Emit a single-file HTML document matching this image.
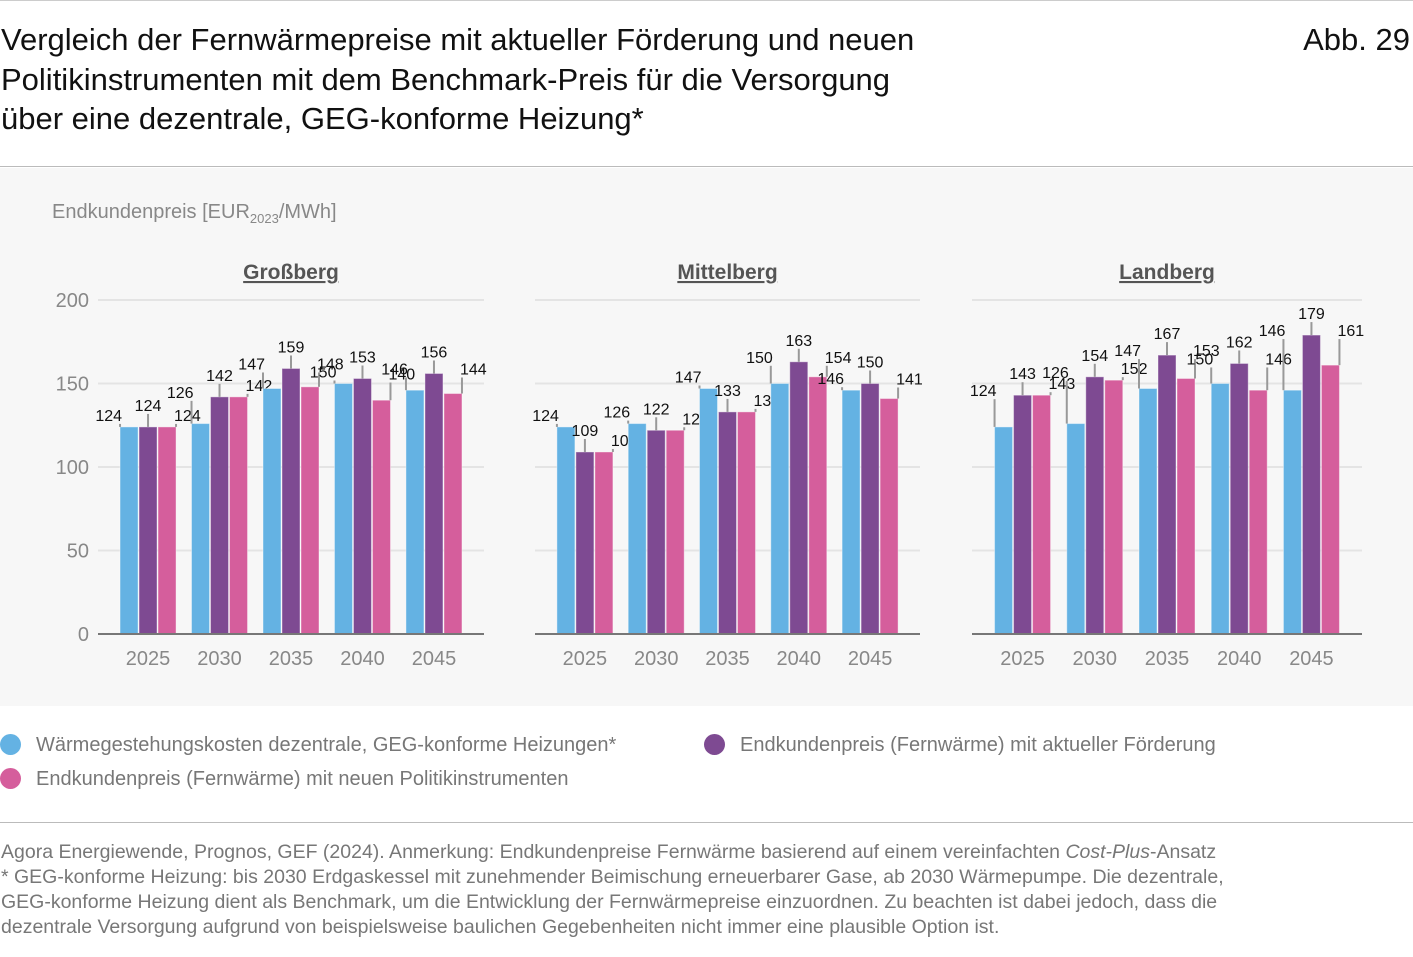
<!DOCTYPE html>
<html><head><meta charset="utf-8"><style>
body{margin:0;width:1413px;height:957px;background:#fff;font-family:"Liberation Sans",sans-serif;position:relative;overflow:hidden}
.abs{position:absolute;white-space:nowrap}
</style></head><body>
<div class="abs" style="left:0;top:0;width:1413px;height:1px;background:#ccc"></div>
<div class="abs" style="left:1px;top:20px;font-size:31px;line-height:39.5px;color:#111">Vergleich der Fernwärmepreise mit aktueller Förderung und neuen<br>Politikinstrumenten mit dem Benchmark-Preis für die Versorgung<br>über eine dezentrale, GEG-konforme Heizung*</div>
<div class="abs" style="right:3px;top:20px;font-size:31px;line-height:39.5px;color:#111">Abb. 29</div>
<div class="abs" style="left:0;top:166px;width:1413px;height:1px;background:#bbb"></div>
<div class="abs" style="left:0;top:168px;width:1413px;height:538px;background:#f7f7f7"></div>
<svg class="abs" style="left:0;top:0" width="1413" height="957" id="chart"></svg>
<div class="abs" style="left:0;top:734px;font-size:20px;color:#777">
 <div class="abs" style="left:0;top:0"><span style="display:inline-block;width:21px;height:21px;border-radius:50%;background:#64b2e3;vertical-align:-4px;margin-right:15px"></span>Wärmegestehungskosten dezentrale, GEG-konforme Heizungen*</div>
 <div class="abs" style="left:704px;top:0"><span style="display:inline-block;width:21px;height:21px;border-radius:50%;background:#7e4a92;vertical-align:-4px;margin-right:15px"></span>Endkundenpreis (Fernwärme) mit aktueller Förderung</div>
 <div class="abs" style="left:0;top:34px"><span style="display:inline-block;width:21px;height:21px;border-radius:50%;background:#d55e9c;vertical-align:-4px;margin-right:15px"></span>Endkundenpreis (Fernwärme) mit neuen Politikinstrumenten</div>
</div>
<div class="abs" style="left:0;top:822px;width:1413px;height:1px;background:#bbb"></div>
<div class="abs" style="left:1px;top:840px;font-size:19.5px;line-height:25px;color:#777">Agora Energiewende, Prognos, GEF (2024). Anmerkung: Endkundenpreise Fernwärme basierend auf einem vereinfachten <i>Cost-Plus</i>-Ansatz<br>* GEG-konforme Heizung: bis 2030 Erdgaskessel mit zunehmender Beimischung erneuerbarer Gase, ab 2030 Wärmepumpe. Die dezentrale,<br>GEG-konforme Heizung dient als Benchmark, um die Entwicklung der Fernwärmepreise einzuordnen. Zu beachten ist dabei jedoch, dass die<br>dezentrale Versorgung aufgrund von beispielsweise baulichen Gegebenheiten nicht immer eine plausible Option ist.</div>
<script>
const regions=["Großberg","Mittelberg","Landberg"];
const years=["2025","2030","2035","2040","2045"];
const benchmark=[[124,126,147,150,146],[124,126,147,150,146],[124,126,147,150,146]];
const currentSupport=[[124,142,159,153,156],[109,122,133,163,150],[143,154,167,162,179]];
const newInstruments=[[124,142,148,140,144],[109,122,133,154,141],[143,152,153,146,161]];
const yTicks=[0,50,100,150,200];
const svg=document.getElementById('chart');
const NS='http://www.w3.org/2000/svg';
const panelX=[[98,484],[535,920],[972,1362]];
const y=v=>634-v*(334/200);
function mk(t,a,txt){const e=document.createElementNS(NS,t);for(const k in a)e.setAttribute(k,a[k]);if(txt!==undefined)e.textContent=txt;svg.appendChild(e);return e;}
const yl=mk('text',{x:52,y:218,'font-size':20,fill:'#888','font-family':'Liberation Sans'});


yl.innerHTML='Endkundenpreis [EUR<tspan font-size="13" dy="5">2023</tspan><tspan dy="-5">/MWh]</tspan>';
yTicks.forEach(t=>{const e=mk('text',{x:89,y:y(t)+7,'text-anchor':'end','font-size':20,fill:'#888','font-family':'Liberation Sans'},t);

});
const cols=['#64b2e3','#7e4a92','#d55e9c'];
regions.forEach((r,p)=>{
 const [x0,x1]=panelX[p];
 yTicks.forEach(t=>{if(t>0){const g=mk('line',{x1:x0,x2:x1,y1:y(t),y2:y(t),stroke:'#e4e4e4','stroke-width':2});
 
 }});
 const ttl=mk('text',{x:(x0+x1)/2,y:279,'text-anchor':'middle','font-size':21,'font-weight':'bold',fill:'#555','text-decoration':'underline','font-family':'Liberation Sans'},r);
 
 
 const step=(x1-x0)/5.4;
 years.forEach((yr,i)=>{
  const cx=x0+step*(0.7+i);
  const vals=[benchmark[p][i],currentSupport[p][i],newInstruments[p][i]];
  const midLab=y(vals[1])-22;
  vals.forEach((v,s)=>{
   const bx=cx-28+s*19;
   const b=mk('rect',{x:bx,y:y(v),width:18,height:634-y(v),fill:cols[s],stroke:'#fff','stroke-opacity':0.4,'stroke-width':1});
   
   
   const ly=s===1?midLab:Math.min(y(v)-12,midLab+17);
   const lx=bx+9+(s===0?-9:s===2?9:0);
   const lineX=bx+9+(s===0?-9:s===2?9:0);
   if(y(v)-(ly+9)>2){const l=mk('line',{x1:lineX,x2:lineX,y1:ly+9,y2:y(v),stroke:'#999','stroke-width':2});
   
   }
   const tl=mk('text',{x:lx,y:ly+6,'text-anchor':s===0?'end':s===2?'start':'middle','font-size':16,fill:'#111','font-family':'Liberation Sans'},v);
   if(s===0)tl.setAttribute('x',lx+2);if(s===2)tl.setAttribute('x',lx-2);
   
   
  });
  const xt=mk('text',{x:cx,y:665,'text-anchor':'middle','font-size':20,fill:'#888','font-family':'Liberation Sans'},yr);
  
  
 });
 const base=mk('line',{x1:x0+37,x2:x1,y1:634,y2:634,stroke:'#777','stroke-width':2});
 base.setAttribute('x1',x0);
 
 
});
</script>
</body></html>
